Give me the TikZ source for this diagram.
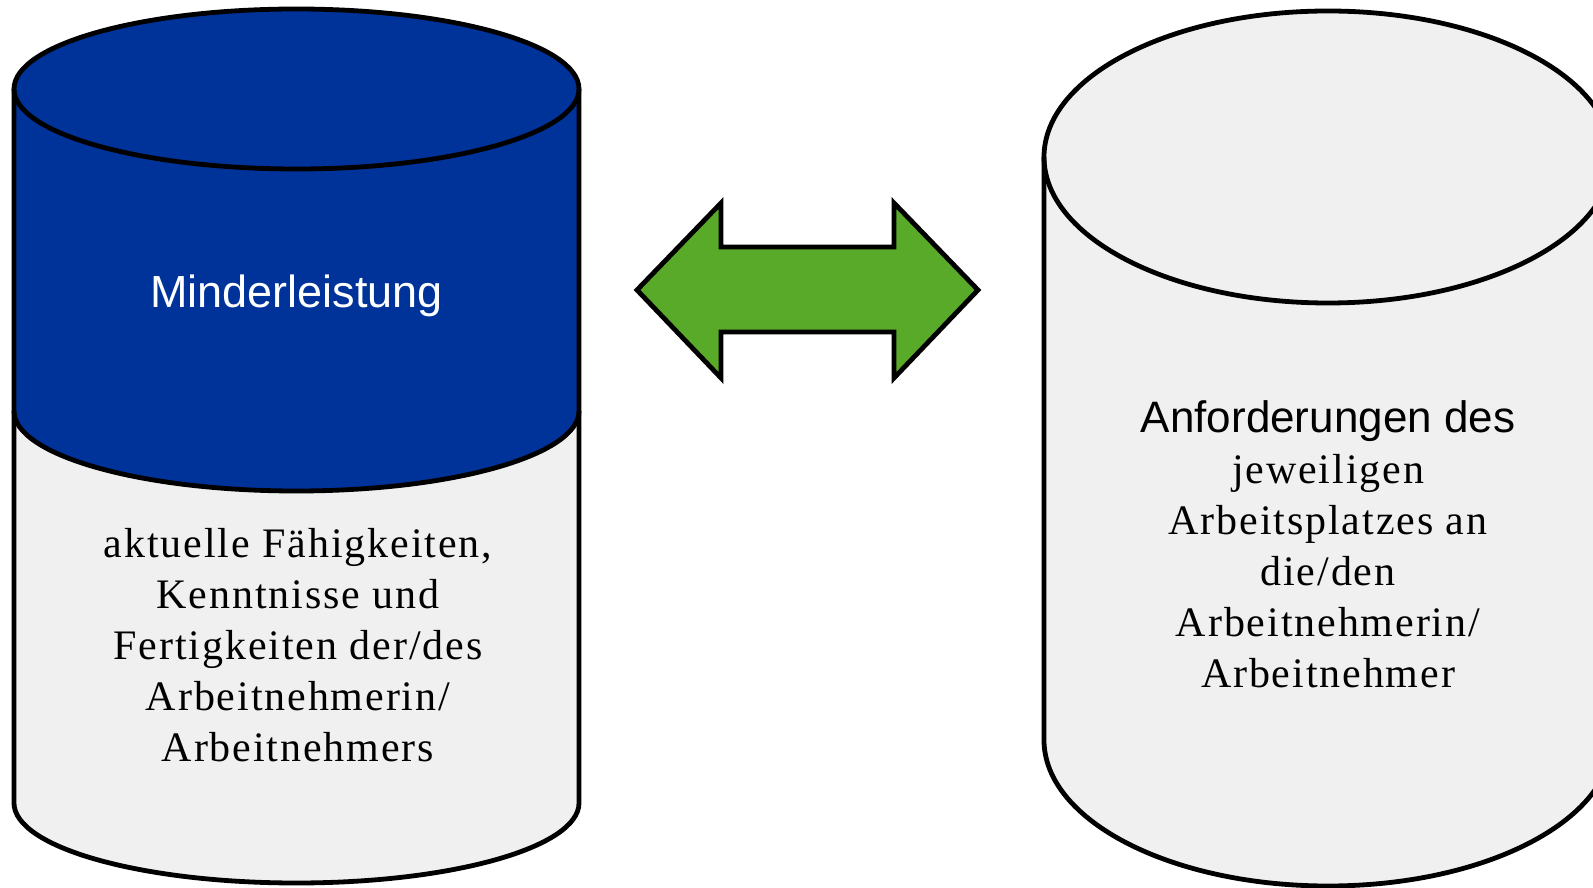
\documentclass[tikz,border=0pt]{standalone}
\usepackage{fontspec}
\setmainfont{Liberation Serif}[LetterSpace=4.5]
\newfontfamily\arialfont{Liberation Sans}
\definecolor{cylblue}{HTML}{003399}
\definecolor{cylgray}{HTML}{F0F0F0}
\definecolor{arrgreen}{HTML}{5AAA2A}
\begin{document}
\begin{tikzpicture}[x=1pt,y=1pt,
  outline/.style={draw=black,line width=4.8pt,line join=miter},
  serif/.style={font=\fontsize{42}{51}\selectfont,align=center,text=black},
  sanslabel/.style={font=\arialfont\fontsize{45}{54}\selectfont}]
\useasboundingbox (0,0) rectangle (1593,887);
\clip (0,0) rectangle (1593,887);
\fill[white] (0,0) rectangle (1593,887);
% left cylinder
\fill[cylgray] (14,476) -- (14,84) arc[start angle=180,end angle=360,x radius=282.5,y radius=80] -- (579,476) -- cycle;
\fill[cylblue] (14,798) -- (14,476) arc[start angle=180,end angle=360,x radius=282.5,y radius=80] -- (579,798) -- cycle;
\fill[cylblue] (296.5,798) ellipse[x radius=282.5,y radius=80];
\draw[outline] (14,798) -- (14,84) arc[start angle=180,end angle=360,x radius=282.5,y radius=80] -- (579,798);
\draw[outline] (14,476) arc[start angle=180,end angle=360,x radius=282.5,y radius=80];
\draw[outline] (296.5,798) ellipse[x radius=282.5,y radius=80];
% right cylinder
\fill[cylgray] (1044,730) -- (1044,147) arc[start angle=180,end angle=360,x radius=284,y radius=146] -- (1612,730) -- cycle;
\fill[cylgray] (1328,730) ellipse[x radius=284,y radius=146];
\draw[outline] (1044,730) -- (1044,147) arc[start angle=180,end angle=360,x radius=284,y radius=146] -- (1612,730);
\draw[outline] (1328,730) ellipse[x radius=284,y radius=146];
% double arrow
\draw[outline,fill=arrgreen] (637,597) -- (721,684) -- (721,640) -- (894,640) -- (894,684) -- (978,597) -- (894,509) -- (894,555) -- (721,555) -- (721,509) -- cycle;
% texts
\node[sanslabel,text=white] (minder) at (296.5,591) {Minderleistung};
\node[serif] (faehig) at (298,242) {aktuelle Fähigkeiten,\\Kenntnisse und\\Fertigkeiten der/des\\Arbeitnehmerin/\\Arbeitnehmers};
\node[serif] (anford) at (1328,343) {{\arialfont\fontsize{44}{51}\selectfont Anforderungen des}\\jeweiligen\\Arbeitsplatzes an\\die/den\\Arbeitnehmerin/\\Arbeitnehmer};
\end{tikzpicture}
\end{document}
